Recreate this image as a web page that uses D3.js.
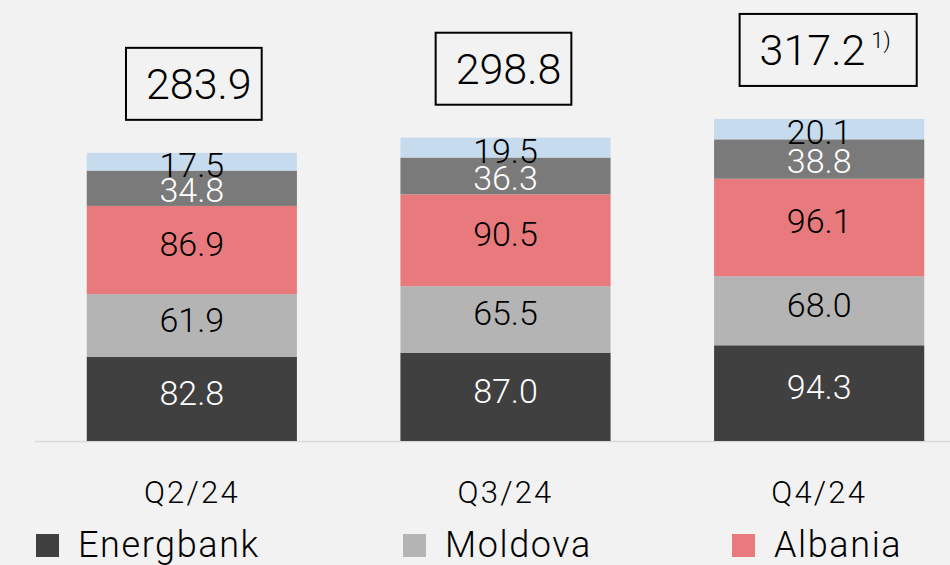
<!DOCTYPE html>
<html>
<head>
<meta charset="utf-8">
<script src="https://cdn.jsdelivr.net/npm/d3@7"></script>
<style>
  body, html { margin: 0; padding: 0; background: #f2f2f2; overflow: hidden; }
  svg { display: block; font-family: Roboto, "Noto Sans", sans-serif; font-weight: 300; }
</style>
</head>
<body>
<div id="chart"></div>
<script>
// data
var quarters = ["Q2/24", "Q3/24", "Q4/24"];
var series = ["Energbank", "Moldova", "Albania", "Other", "Holding"];
var energbank = [82.8, 87.0, 94.3];
var moldova = [61.9, 65.5, 68.0];
var albania = [86.9, 90.5, 96.1];
var other = [34.8, 36.3, 38.8];
var holding = [17.5, 19.5, 20.1];
var totals = ["283.9", "298.8", "317.2"];
var totalNotes = ["", "", "1)"];
var legendNames = ["Energbank", "Moldova", "Albania"];

var colors = ["#404040", "#b4b4b4", "#e87a7d", "#7a7a7a", "#c6dbed"];
var textColors = ["#fff", "#000", "#000", "#fff", "#000"];
var labelShift = [-6, -6, -6, 2, 3];
var boxShift = [2, -2, 9];

var W = 950, H = 565;
var svg = d3.select("#chart").append("svg").attr("width", W).attr("height", H);

var rows = quarters.map(function(q, i) {
  return {q: q, Energbank: energbank[i], Moldova: moldova[i], Albania: albania[i], Other: other[i], Holding: holding[i]};
});
var stacked = d3.stack().keys(series)(rows);

var x = d3.scaleBand().domain(quarters).range([35, 976]).paddingInner(0.33).paddingOuter(0.165);
var y = d3.scaleLinear().domain([0, 100]).range([441, 339.5]);

// baseline
svg.append("line").attr("x1", 35).attr("x2", W).attr("y1", 441.5).attr("y2", 441.5)
  .attr("stroke", "#d9d9d9").attr("stroke-width", 1.5);

stacked.forEach(function(layer, li) {
  svg.append("g").selectAll("rect").data(layer).enter().append("rect")
    .attr("x", function(d) { return x(d.data.q); })
    .attr("width", x.bandwidth())
    .attr("y", function(d) { return y(d[1]); })
    .attr("height", function(d) { return y(d[0]) - y(d[1]); })
    .attr("fill", colors[li]);
});

stacked.forEach(function(layer, li) {
  svg.selectAll(null).data(layer).enter().append("text")
    .attr("x", function(d) { return x(d.data.q) + x.bandwidth() / 2; })
    .attr("y", function(d) { return (y(d[0]) + y(d[1])) / 2 + labelShift[li]; })
    .attr("text-anchor", "middle").attr("dominant-baseline", "central")
    .attr("font-size", 34).attr("fill", textColors[li])
    .text(function(d) { return (d[1] - d[0]).toFixed(1); });
});

// total boxes
quarters.forEach(function(q, i) {
  var top = y(d3.sum(series, function(k) { return rows[i][k]; }));
  var g = svg.append("g");
  var cx = x(q) + x.bandwidth() / 2 + boxShift[i];
  var t = g.append("text").attr("y", top - 69).attr("x", 0)
    .attr("dominant-baseline", "central").attr("font-size", 43).attr("fill", "#000");
  t.append("tspan").text(totals[i]);
  if (totalNotes[i]) t.append("tspan").attr("dx", 6).attr("dy", -10).attr("font-size", 22).text(totalNotes[i]);
  var bb = t.node().getBBox();
  var padL = 20, padR = totalNotes[i] ? 26 : 10;
  var bw = bb.width + padL + padR;
  var bx = cx - bw / 2;
  t.attr("x", bx + padL);
  g.insert("rect", "text").attr("x", bx).attr("y", top - 105).attr("width", bw).attr("height", 72)
    .attr("fill", "none").attr("stroke", "#000").attr("stroke-width", 2);
});

// category axis labels
var xAxis = svg.append("g").attr("transform", "translate(0,441)")
  .call(d3.axisBottom(x).tickSize(0).tickPadding(40));
xAxis.select(".domain").remove();
xAxis.selectAll("text").attr("font-size", 31).attr("font-family", "Roboto").attr("font-weight", 300)
  .attr("fill", "#000").attr("letter-spacing", 2.2);

// legend
var legX = [36, 403, 732];
legendNames.forEach(function(n, i) {
  svg.append("rect").attr("x", legX[i]).attr("y", 534).attr("width", 23).attr("height", 23).attr("fill", colors[i]);
  svg.append("text").attr("x", legX[i] + 42).attr("y", 545).attr("dominant-baseline", "central")
    .attr("font-size", 36).attr("fill", "#000").attr("letter-spacing", 1.6).text(n);
});
</script>
</body>
</html>
